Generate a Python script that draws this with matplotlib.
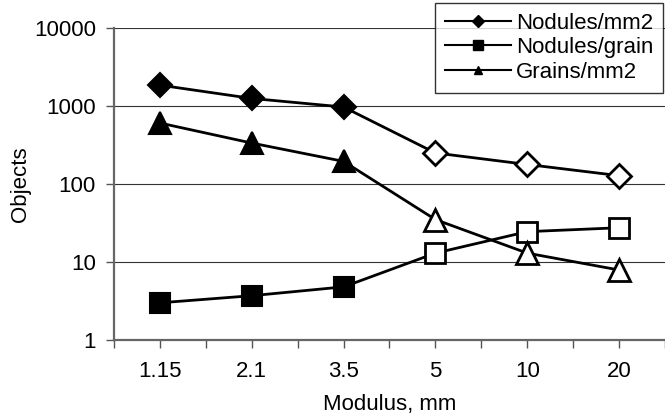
import numpy as np
import matplotlib.pyplot as plt
from matplotlib.lines import Line2D

plt.rcParams['font.family'] = ['Liberation Sans', 'DejaVu Sans']

categories = ['1.15', '2.1', '3.5', '5', '10', '20']
nodules_mm2 = [1850, 1250, 970, 250, 178, 128]
nodules_grain = [3.0, 3.7, 4.8, 13, 24.5, 27.5]
grains_mm2 = [605, 335, 195, 35, 13, 7.9]
n_filled = 3  # first three points filled, rest open

fig = plt.figure(figsize=(6.65, 4.19), dpi=100)
ax = fig.add_axes([0.1714, 0.1885, 0.8286, 0.7447])

x = np.arange(len(categories))
series = [
    (nodules_mm2, 'D', 12.5, 'Nodules/mm2'),
    (nodules_grain, 's', 14, 'Nodules/grain'),
    (grains_mm2, '^', 16, 'Grains/mm2'),
]
handles = []
for vals, mk, ms, name in series:
    vals = np.array(vals)
    ax.plot(x, vals, color='black', lw=2, zorder=3)
    ax.plot(x[:n_filled], vals[:n_filled], ls='none', marker=mk, ms=ms,
            mfc='black', mec='black', mew=1.5, zorder=4)
    ax.plot(x[n_filled:], vals[n_filled:], ls='none', marker=mk, ms=ms,
            mfc='white', mec='black', mew=2, zorder=4)
    handles.append(Line2D([], [], color='black', lw=1.5, marker=mk,
                          ms=6 if mk != 's' else 7, mfc='black', mec='black'))

ax.set_yscale('log')
ax.set_ylim(1, 10000)
ax.set_xlim(-0.5, len(categories) - 0.5)
ax.set_yticks([1, 10, 100, 1000, 10000])
ax.set_yticklabels(['1', '10', '100', '1000', '10000'])
ax.yaxis.set_minor_locator(plt.NullLocator())
ax.set_xticks(x)
ax.set_xticklabels(categories)
ax.set_xticks(np.arange(-0.5, len(categories)), minor=True)

ax.grid(axis='y', which='major', color='#333333', lw=0.8)
ax.set_axisbelow(True)
ax.tick_params(axis='both', which='both', direction='out', length=6,
               width=1, color='#555555', labelsize=16)
ax.tick_params(axis='y', pad=7)
ax.tick_params(axis='x', pad=9)
for s in ['top', 'right']:
    ax.spines[s].set_visible(False)
ax.spines['left'].set_color('#666666')
ax.spines['left'].set_linewidth(1.6)
ax.spines['bottom'].set_color('#666666')
ax.spines['bottom'].set_linewidth(1.6)

ax.set_xlabel('Modulus, mm', fontsize=16, labelpad=9)
ax.set_ylabel('Objects', fontsize=16, labelpad=2)

leg = fig.legend(handles, [s[3] for s in series], loc='upper right',
                 bbox_to_anchor=(0.997, 0.993), fontsize=16, frameon=True,
                 fancybox=False, edgecolor='black', handlelength=3.0,
                 handletextpad=0.2, borderpad=0.45, labelspacing=0.15,
                 borderaxespad=0)
leg.get_frame().set_linewidth(1)

fig.savefig('out.png', dpi=100)
